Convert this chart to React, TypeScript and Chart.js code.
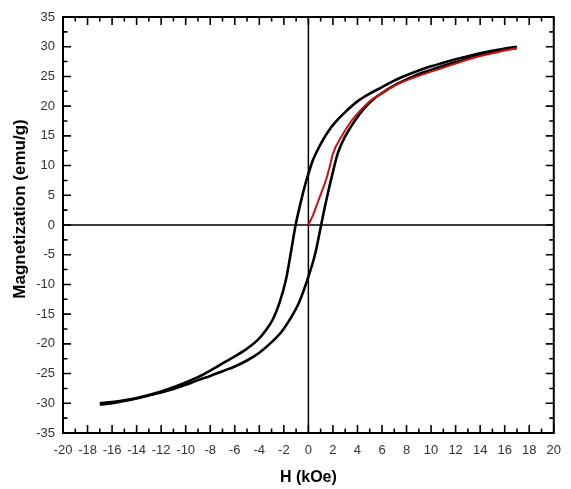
import React, { useEffect, useRef } from "react";
import { Chart, registerables } from "chart.js";
Chart.register(...registerables);

// ---- data (H in kOe, M in emu/g) ----
const upperH = [17, 16, 15, 14, 13, 12, 11, 10, 9, 8, 7, 6, 5, 4, 3, 2.2, 1.6, 1.1, 0.7, 0.35, 0, -0.3, -0.65, -1.04, -1.44, -1.84, -2.37, -2.9, -3.5, -4.1, -5, -6, -7, -8, -9, -10, -11, -12, -13, -14, -15, -16, -17];
const upperM = [30.0, 29.7, 29.3, 28.9, 28.4, 27.9, 27.3, 26.7, 26.0, 25.2, 24.3, 23.2, 22.1, 20.8, 19.0, 17.3, 15.7, 14.0, 12.4, 10.8, 8.6, 6.5, 3.6, 0, -4.8, -9.3, -13.2, -15.9, -17.8, -19.3, -20.8, -22.1, -23.3, -24.5, -25.6, -26.5, -27.3, -28.0, -28.6, -29.1, -29.5, -29.8, -30.0];

const lowerH = [-17, -16, -15, -14, -13, -12, -11, -10, -9, -8, -7, -6, -5, -4, -3.04, -2.2, -1.57, -0.77, 0, 0.56, 1.04, 1.41, 2.03, 2.4, 3.0, 3.8, 4.5, 5.2, 6, 7, 8, 9, 10, 11, 12, 13, 14, 15, 16, 17];
const lowerM = [-30.2, -30.0, -29.6, -29.2, -28.7, -28.2, -27.6, -26.9, -26.1, -25.4, -24.6, -23.8, -22.8, -21.5, -19.8, -18.0, -16.1, -13.1, -8.7, -4.8, 0, 3.7, 9.2, 12.1, 14.9, 17.6, 19.5, 21.0, 22.2, 23.5, 24.5, 25.4, 26.1, 26.8, 27.4, 28.0, 28.6, 29.1, 29.5, 29.8];

const virginH = [0, 0.4, 0.8, 1.2, 1.5, 1.8, 2.0, 2.7, 3.5, 4.2, 5.1, 6, 7.5, 9, 11.2, 13.4, 15, 17];
const virginM = [0, 1.8, 4.0, 6.2, 8.0, 10.3, 12.0, 14.9, 17.5, 19.2, 21.0, 22.2, 23.9, 25.1, 26.6, 28.1, 28.9, 29.8];

const xTickValues = [-20, -18, -16, -14, -12, -10, -8, -6, -4, -2, 0, 2, 4, 6, 8, 10, 12, 14, 16, 18, 20];
const xMinorValues = [-19, -17, -15, -13, -11, -9, -7, -5, -3, -1, 1, 3, 5, 7, 9, 11, 13, 15, 17, 19];
const yTickValues = [-35, -30, -25, -20, -15, -10, -5, 0, 5, 10, 15, 20, 25, 30, 35];
const yMinorValues = [-32.5, -27.5, -22.5, -17.5, -12.5, -7.5, -2.5, 2.5, 7.5, 12.5, 17.5, 22.5, 27.5, 32.5];

const xTitle = "H (kOe)";
const yTitle = "Magnetization (emu/g)";

const toPoints = (hs: number[], ms: number[]) => hs.map((h, i) => ({ x: h, y: ms[i] }));

const TICK_FONT = "'Liberation Sans', Arial, sans-serif";

const framePlugin = {
  id: "framePlugin",
  beforeDatasetsDraw(chart: any) {
    const { ctx, chartArea: a, scales } = chart;
    const x0 = scales.x.getPixelForValue(0);
    const y0 = scales.y.getPixelForValue(0);
    ctx.save();
    ctx.strokeStyle = "#000";
    ctx.lineWidth = 1.5;
    ctx.beginPath();
    ctx.moveTo(x0, a.top);
    ctx.lineTo(x0, a.bottom);
    ctx.moveTo(a.left, y0);
    ctx.lineTo(a.right, y0);
    ctx.stroke();
    ctx.restore();
  },
  afterDatasetsDraw(chart: any) {
    const { ctx, chartArea: a, scales } = chart;
    ctx.save();
    ctx.strokeStyle = "#000";
    ctx.lineWidth = 2;
    ctx.strokeRect(a.left, a.top, a.right - a.left, a.bottom - a.top);
    ctx.lineWidth = 1.6;
    ctx.beginPath();
    const major = 8;
    const minor = 4.5;
    const xt = (v: number, len: number) => {
      const p = scales.x.getPixelForValue(v);
      ctx.moveTo(p, a.bottom);
      ctx.lineTo(p, a.bottom - len);
      ctx.moveTo(p, a.top);
      ctx.lineTo(p, a.top + len);
    };
    const yt = (v: number, len: number) => {
      const p = scales.y.getPixelForValue(v);
      ctx.moveTo(a.left, p);
      ctx.lineTo(a.left + len, p);
      ctx.moveTo(a.right, p);
      ctx.lineTo(a.right - len, p);
    };
    xTickValues.forEach((v) => xt(v, major));
    xMinorValues.forEach((v) => xt(v, minor));
    yTickValues.forEach((v) => yt(v, major));
    yMinorValues.forEach((v) => yt(v, minor));
    ctx.stroke();

    // axis titles
    ctx.fillStyle = "#000";
    ctx.textAlign = "center";
    ctx.textBaseline = "middle";
    ctx.font = "bold 16px 'Liberation Sans', Arial, sans-serif";
    ctx.fillText(xTitle, (a.left + a.right) / 2, 478);
    ctx.translate(20, 209);
    ctx.rotate(-Math.PI / 2);
    ctx.font = "bold 17px 'Liberation Sans', Arial, sans-serif";
    ctx.fillText(yTitle, 0, 0);
    ctx.restore();
  },
};

export default function App() {
  const canvasRef = useRef<HTMLCanvasElement | null>(null);

  useEffect(() => {
    document.body.style.margin = "0";
    const canvas = canvasRef.current;
    if (!canvas) return;
    const chart = new Chart(canvas, {
      type: "line",
      data: {
        datasets: [
          {
            label: "upper",
            data: toPoints(upperH, upperM),
            borderColor: "#000",
            borderWidth: 2.6,
            pointRadius: 0,
            cubicInterpolationMode: "monotone",
            fill: false,
            order: 2,
          },
          {
            label: "lower",
            data: toPoints(lowerH, lowerM),
            borderColor: "#000",
            borderWidth: 2.6,
            pointRadius: 0,
            cubicInterpolationMode: "monotone",
            fill: false,
            order: 2,
          },
          {
            label: "virgin",
            data: toPoints(virginH, virginM),
            borderColor: "#d01010",
            borderWidth: 2,
            pointRadius: 0,
            cubicInterpolationMode: "monotone",
            fill: false,
            order: 0,
          },
        ],
      },
      options: {
        responsive: false,
        animation: false,
        events: [],
        layout: { padding: { top: 17, right: 8, left: 0, bottom: 0 } },
        plugins: { legend: { display: false }, tooltip: { enabled: false } },
        scales: {
          x: {
            type: "linear",
            min: -20,
            max: 20,
            grid: { display: false, drawTicks: false },
            border: { display: false },
            afterBuildTicks: (s: any) => {
              s.ticks = xTickValues.map((v) => ({ value: v }));
            },
            afterFit: (s: any) => {
              s.height = 56;
            },
            ticks: {
              color: "#333",
              padding: 10,
              maxRotation: 0,
              autoSkip: false,
              font: { family: TICK_FONT, size: 13 },
            },
          },
          y: {
            type: "linear",
            min: -35,
            max: 35,
            grid: { display: false, drawTicks: false },
            border: { display: false },
            afterBuildTicks: (s: any) => {
              s.ticks = yTickValues.map((v) => ({ value: v }));
            },
            afterFit: (s: any) => {
              s.width = 63;
            },
            ticks: {
              color: "#333",
              padding: 8,
              autoSkip: false,
              font: { family: TICK_FONT, size: 13 },
            },
          },
        },
      },
      plugins: [framePlugin],
    } as any);
    return () => chart.destroy();
  }, []);

  return (
    <div style={{ width: 571, height: 489, background: "#fff" }}>
      <canvas ref={canvasRef} width={571} height={489} style={{ display: "block" }} />
    </div>
  );
}
